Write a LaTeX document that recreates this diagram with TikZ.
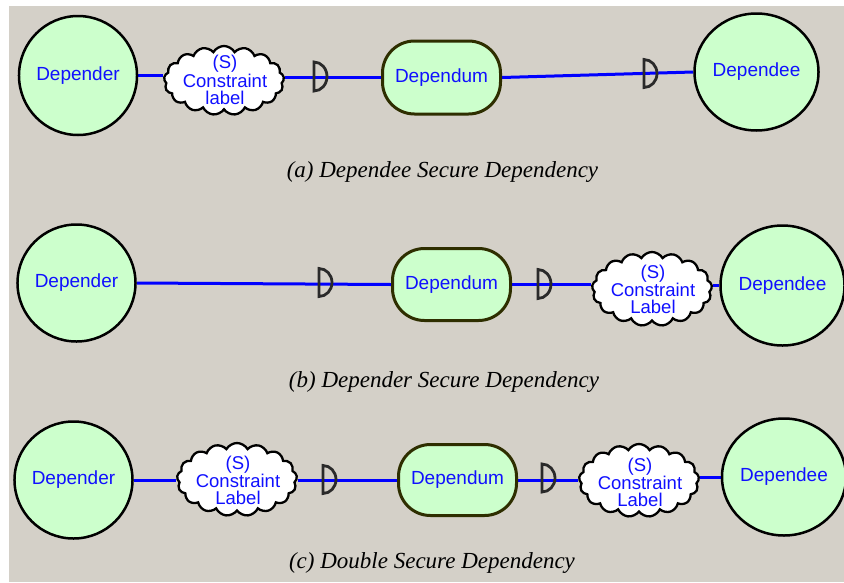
\documentclass[tikz,border=0pt]{standalone}
\usepackage{fontspec}
\setmainfont{Liberation Serif}
\setsansfont{Liberation Sans}
\usetikzlibrary{shapes.geometric,shapes.symbols}
\definecolor{bggrey}{HTML}{D4D0C8}
\definecolor{actgreen}{HTML}{CCFFCC}
\definecolor{dumline}{HTML}{2E2E00}
\definecolor{dgrey}{HTML}{2A2A2A}
\definecolor{lblue}{HTML}{1010FF}
\pgfdeclarelayer{back}
\pgfdeclarelayer{wires}
\pgfsetlayers{back,wires,main}
\tikzset{
  actor/.style={ellipse, draw=black, line width=2.5pt, fill=actgreen, inner sep=0pt,
    text=lblue, font=\sffamily\fontsize{19}{17}\selectfont},
  dumbox/.style={rectangle, rounded corners=32pt, draw=dumline, line width=3pt, fill=actgreen,
    inner sep=0pt, text=lblue, font=\sffamily\fontsize{19}{17}\selectfont},
  cloudbox/.style={cloud, cloud puffs=17, cloud puff arc=120, aspect=1.7, draw=black,
    line width=2.3pt, fill=white, inner sep=0pt},
  lbl/.style={text=lblue, font=\sffamily\fontsize{18.5}{17}\selectfont, align=center, inner sep=0pt},
  link/.style={draw=blue, line width=3pt},
  dline/.style={draw=dgrey, line width=2.8pt},
  capt/.style={font=\fontsize{23}{27}\selectfont\itshape, inner sep=0pt}
}
\newcommand{\dsymb}[3]{\draw[dline] (#1,#2+#3) -- (#1,#2-#3) arc[start angle=-90, end angle=90, x radius=13, y radius=#3] -- cycle;}
\begin{document}
\begin{tikzpicture}[x=1pt,y=-1pt]
\useasboundingbox (0,0) rectangle (844,582);
\begin{pgfonlayer}{back}
\fill[white] (0,0) rectangle (844,582);
\fill[bggrey] (9,6) rectangle (844,582);
\end{pgfonlayer}

% ---------- row (a)
\node[actor, minimum width=117pt, minimum height=119pt] (dr_a) at (78,75.5) {Depender};
\node[cloudbox, minimum width=120pt, minimum height=69pt] (cl_a) at (224,80.5) {};
\node[lbl] (t_a) at (225,80) {(S)\\Constraint\\label};
\node[dumbox, minimum width=118pt, minimum height=73pt] (dm_a) at (441.5,77.5) {Dependum};
\node[actor, minimum width=118pt, minimum height=117pt] (de_a) at (756.5,72) {Dependee};
\begin{pgfonlayer}{wires}
\draw[link] (dr_a.east) -- (dr_a.east -| cl_a.west);
\draw[link] (cl_a.east |- dm_a.west) -- (dm_a.west);
\draw[link] (dm_a.east) -- (de_a.west);
\end{pgfonlayer}
\dsymb{314}{76.5}{14.5}
\dsymb{644}{73.5}{14}
\node[capt] (cap_a) at (442.5,172) {(a) Dependee Secure Dependency};

% ---------- row (b)
\node[actor, minimum width=118pt, minimum height=117pt] (dr_b) at (76.5,283) {Depender};
\node[dumbox, minimum width=118pt, minimum height=72pt] (dm_b) at (451.5,284.5) {Dependum};
\node[cloudbox, minimum width=120pt, minimum height=74pt] (cl_b) at (652,289) {};
\node[lbl] (t_b) at (653,289.5) {(S)\\Constraint\\Label};
\node[actor, minimum width=118pt, minimum height=120pt] (de_b) at (782.5,285.5) {Dependee};
\begin{pgfonlayer}{wires}
\draw[link] (dr_b.east) -- (dm_b.west);
\draw[link] (dm_b.east) -- (dm_b.east -| cl_b.west);
\draw[link] (cl_b.east |- de_b.west) -- (de_b.west);
\end{pgfonlayer}
\dsymb{319}{282.5}{14}
\dsymb{538}{284}{14.5}
\node[capt] (cap_b) at (444,382) {(b) Depender Secure Dependency};

% ---------- row (c)
\node[actor, minimum width=118pt, minimum height=117pt] (dr_c) at (73.5,480) {Depender};
\node[cloudbox, minimum width=120pt, minimum height=73pt] (cl_c1) at (237,479.5) {};
\node[lbl] (t_c1) at (238,480.5) {(S)\\Constraint\\Label};
\node[dumbox, minimum width=118pt, minimum height=71pt] (dm_c) at (457.5,480) {Dependum};
\node[cloudbox, minimum width=120pt, minimum height=73pt] (cl_c2) at (639,480.5) {};
\node[lbl] (t_c2) at (640,482) {(S)\\Constraint\\Label};
\node[actor, minimum width=115pt, minimum height=117pt] (de_c) at (784,477) {Dependee};
\begin{pgfonlayer}{wires}
\draw[link] (dr_c.east) -- (dr_c.east -| cl_c1.west);
\draw[link] (cl_c1.east |- dm_c.west) -- (dm_c.west);
\draw[link] (dm_c.east) -- (dm_c.east -| cl_c2.west);
\draw[link] (cl_c2.east |- de_c.west) -- (de_c.west);
\end{pgfonlayer}
\dsymb{323}{479.5}{14}
\dsymb{542}{478}{14}
\node[capt] (cap_c) at (432,563) {(c) Double Secure Dependency};
\end{tikzpicture}
\end{document}
